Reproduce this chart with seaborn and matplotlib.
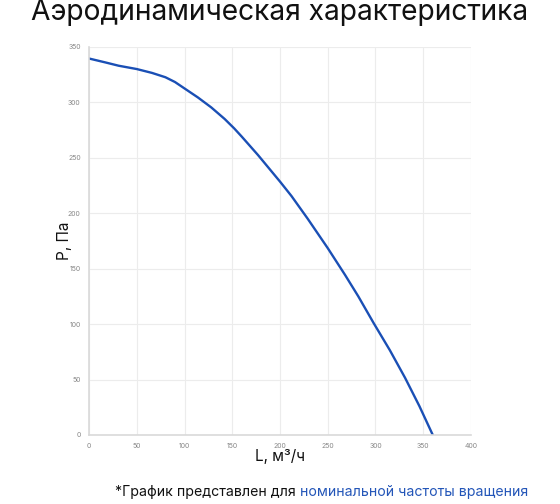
import numpy as np
import pandas as pd
import matplotlib
matplotlib.use("Agg")
import matplotlib.pyplot as plt
import seaborn as sns

# values
flow = [0, 17, 31, 50, 66, 80, 90, 100, 114, 128, 142, 152, 160, 177, 200,
        212, 229, 250, 268, 282, 298, 315, 331, 346, 360]
pressure = [339.5, 336, 333, 330, 326.5, 322.6, 318.3, 312.5, 304.4, 295.4, 285,
            276.5, 269, 252.4, 228.5, 215.5, 195, 168.5, 144.5, 125, 101,
            76.5, 51.5, 26, 0]
x_ticks = [0, 50, 100, 150, 200, 250, 300, 350, 400]
y_ticks = [0, 50, 100, 150, 200, 250, 300, 350]

df = pd.DataFrame({"L": flow, "P": pressure})

sns.set_style("white")
plt.rcParams['font.family'] = ['Inter', 'DejaVu Sans']

fig = plt.figure(figsize=(5.6, 5.04), dpi=100)
ax = fig.add_axes([0.159, 0.137, 0.682, 0.770])

sns.lineplot(data=df, x="L", y="P", ax=ax, color="#1a4fb5", linewidth=1.7)
ax.lines[0].set_solid_joinstyle("round")

ax.set_xlim(0, 400)
ax.set_ylim(0, 350)
ax.set_xticks(x_ticks)
ax.set_yticks(y_ticks)
ax.grid(True, color="#ececec", linewidth=0.8)
ax.tick_params(axis="both", labelsize=5, colors="#888888", length=0, pad=6)
for side in ["top", "right"]:
    ax.spines[side].set_visible(False)
for side in ["left", "bottom"]:
    ax.spines[side].set_color("#d9d9d9")
    ax.spines[side].set_linewidth(1.2)

ax.set_xlabel("L, м³/ч", fontsize=11, color="#111111", labelpad=0)
ax.set_ylabel("P, Па", fontsize=11, color="#111111", labelpad=-3)

fig.text(0.5, 0.976, "Аэродинамическая характеристика", ha="center", va="center",
         fontsize=20.3, color="#111111")

t1 = fig.text(0.205, 0.024, "*График представлен для ", ha="left", va="center",
              fontsize=10.2, color="#111111")
fig.canvas.draw()
bb = t1.get_window_extent()
x2 = fig.transFigure.inverted().transform((bb.x1, bb.y0))[0]
fig.text(x2, 0.024, "номинальной частоты вращения", ha="left", va="center",
         fontsize=10.2, color="#2456b8")

fig.savefig("out.png", dpi=100)
